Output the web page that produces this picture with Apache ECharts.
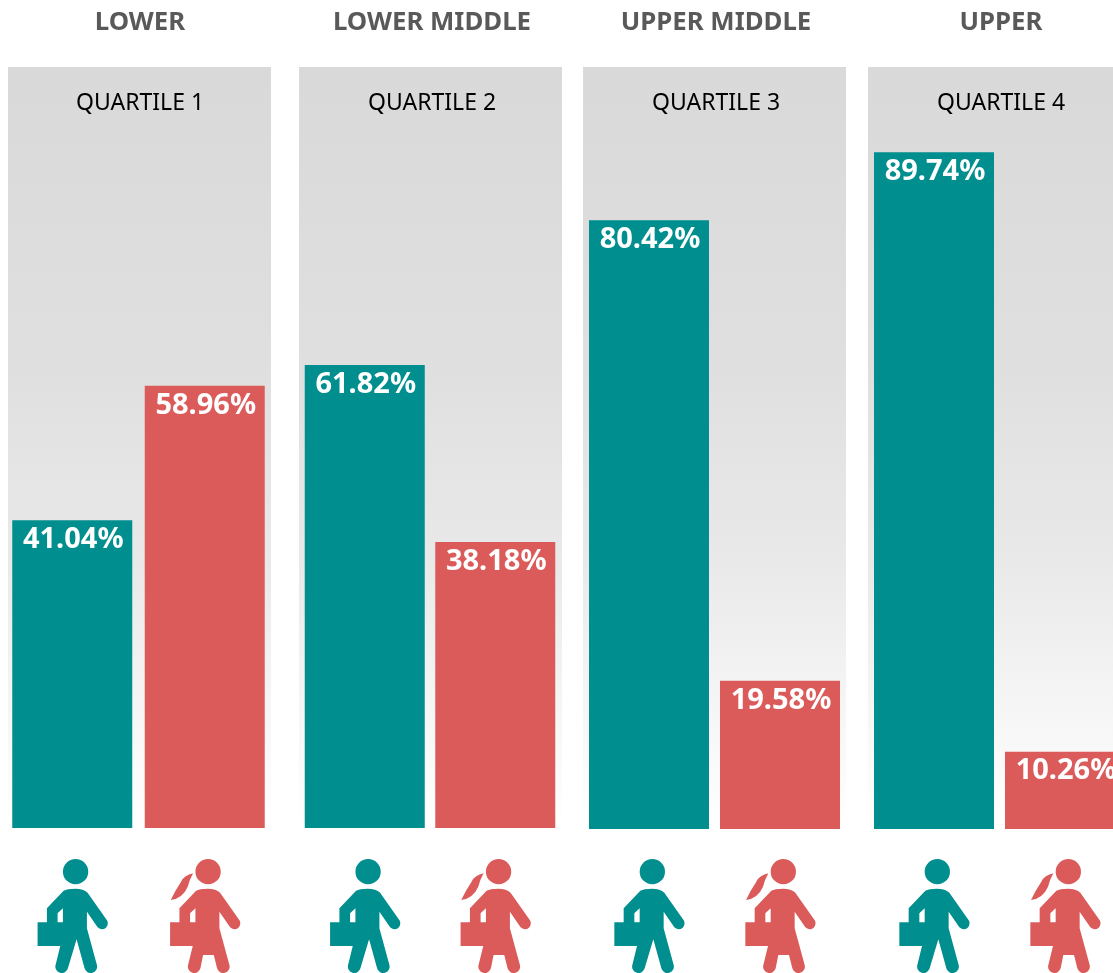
<!DOCTYPE html>
<html>
<head>
<meta charset="utf-8">
<title>Quartiles</title>
<style>
  html, body { margin: 0; padding: 0; background: #fff; }
  #chart { width: 1113px; height: 973px; }
</style>
<script src="https://cdn.jsdelivr.net/npm/echarts@6/dist/echarts.min.js"></script>
</head>
<body>
<div id="chart"></div>
<script>
const bands = ['LOWER', 'LOWER MIDDLE', 'UPPER MIDDLE', 'UPPER']
const quartiles = ['QUARTILE 1', 'QUARTILE 2', 'QUARTILE 3', 'QUARTILE 4']
const genders = ['Men', 'Women']
const men = [41.04, 61.82, 80.42, 89.74]
const women = [58.96, 38.18, 19.58, 10.26]

const TEAL = '#008e8e'
const RED = '#db5b5a'

// layout of each quartile block: grey panel left edge, grid left/width/height, baseline, text centre
const panelLeft = [8, 299, 583, 868]
const gridLeft = [6, 299.5, 583.5, 868.5]
const gridWidth = [265, 261, 262, 262]
const gridHeight = [750, 749, 757, 754]
const baseline = [828, 828, 829, 829]
const textCentre = [140, 432, 716, 1001]

// person icons, drawn at 3x and scaled down
const HEAD = 'M226 87A38 38 0 1 1 226 163A38 38 0 1 1 226 87Z'
const ARM = 'M190 182Q200 176 225 176Q250 176 262 188L318 268A17 17 0 0 1 292 292L260 245L260 295L290 405A19 19 0 0 1 253 415'
const BAG = 'A19 19 0 0 1 166 405L180 348L112 348L112 277L140 277L140 235Z'
const GAP = 'M172 277L188 277L188 235L172 250Z'
const HAIR = 'M181 130Q155 135 145 155Q128 180 114 210Q150 205 165 170Q170 150 181 130Z'
const manPath = HEAD + ARM + 'L229 328L203 415' + BAG + GAP
const womanPath = HEAD + HAIR + ARM + 'L243 375L211 375L203 415' + BAG + GAP

const panels = panelLeft.map(left => ({
  type: 'rect',
  z: -1,
  silent: true,
  shape: { x: left, y: 67, width: 263, height: 763 },
  style: {
    fill: new echarts.graphic.LinearGradient(0, 0, 0, 1, [
      { offset: 0, color: '#d9d9d9' },
      { offset: 0.38, color: '#dfdfdf' },
      { offset: 0.65, color: '#e9e9e9' },
      { offset: 0.83, color: '#f5f5f5' },
      { offset: 1, color: '#ffffff' }
    ])
  }
}))

const titles = []
bands.forEach((b, i) => {
  titles.push({
    text: b,
    left: textCentre[i] - 5,
    top: 5,
    textAlign: 'center',
    textStyle: { fontFamily: 'Noto Sans', fontWeight: 'bold', fontSize: 25.8, color: '#595959' }
  })
  titles.push({
    text: quartiles[i],
    left: textCentre[i] - 5,
    top: 87,
    textAlign: 'center',
    textStyle: { fontFamily: 'Noto Sans', fontWeight: 'normal', fontSize: 23, color: '#000' }
  })
})

// one icon under each bar, placed from the bar's own x position
function renderIcon(params, api) {
  const idx = api.value(0)
  const pt = api.coord([idx, 0])
  return {
    type: 'path',
    x: pt[0] - 72,
    y: 830,
    scaleX: 1 / 3,
    scaleY: 1 / 3,
    shape: { pathData: idx === 0 ? manPath : womanPath },
    style: { fill: idx === 0 ? TEAL : RED }
  }
}

const barSeries = bands.map((b, i) => ({
  type: 'bar',
  xAxisIndex: i,
  yAxisIndex: i,
  barWidth: 120,
  data: [
    { value: men[i], itemStyle: { color: TEAL } },
    { value: women[i], itemStyle: { color: RED } }
  ],
  label: {
    show: true,
    position: 'insideTop',
    distance: 5,
    offset: [1, 0],
    formatter: p => p.value.toFixed(2) + '%',
    fontFamily: 'Noto Sans',
    fontWeight: 'bold',
    fontSize: 29,
    color: '#fff'
  }
}))

const iconSeries = bands.map((b, i) => ({
  type: 'custom',
  xAxisIndex: i,
  yAxisIndex: i,
  silent: true,
  clip: false,
  data: genders.map((g, j) => [j]),
  encode: { x: 0 },
  renderItem: renderIcon
}))

const myChart = echarts.init(document.getElementById('chart'))
myChart.setOption({
  animation: false,
  title: titles,
  graphic: panels,
  grid: bands.map((b, i) => ({
    left: gridLeft[i],
    width: gridWidth[i],
    top: baseline[i] - gridHeight[i],
    height: gridHeight[i],
    outerBoundsMode: 'none'
  })),
  xAxis: bands.map((b, i) => ({
    type: 'category',
    gridIndex: i,
    data: genders,
    show: false
  })),
  yAxis: bands.map((b, i) => ({
    type: 'value',
    gridIndex: i,
    min: 0,
    max: 100,
    show: false
  })),
  series: barSeries.concat(iconSeries)
})
</script>
</body>
</html>
